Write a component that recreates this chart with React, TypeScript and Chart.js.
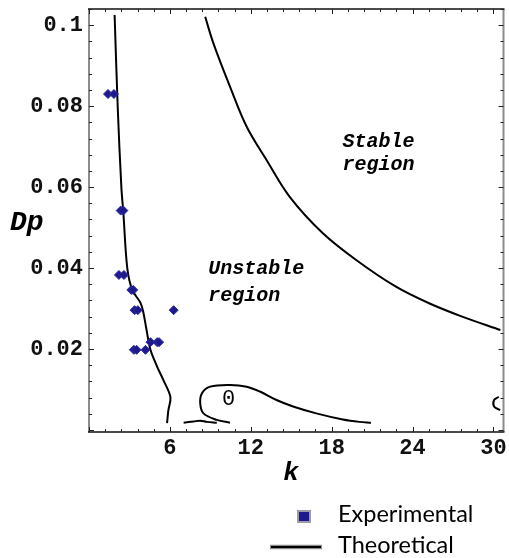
import React, { useEffect, useRef } from "react";
import Chart from "chart.js/auto";

const W = 509;
const H = 558;

// Axis ticks
const xMajorTicks = [6, 12, 18, 24, 30];
const xTickLabels = ["6", "12", "18", "24", "30"];
const yMajorTicks = [0.02, 0.04, 0.06, 0.08, 0.1];
const yTickLabels = ["0.02", "0.04", "0.06", "0.08", "0.1"];

// Experimental points
const expK = [1.41, 1.85, 2.35, 2.55, 2.22, 2.59, 3.14, 3.28, 3.38, 3.62, 6.28, 3.33, 3.53, 4.19, 4.56, 5.06, 5.2];
const expDp = [0.083, 0.083, 0.0542, 0.0542, 0.0383, 0.0383, 0.0346, 0.0346, 0.0296, 0.0296, 0.0296, 0.0198, 0.0198, 0.0198, 0.0217, 0.0217, 0.0217];

// Theoretical contour: left branch
const leftK = [1.9, 2.13, 2.4, 2.55, 2.84, 3.21, 3.82, 4.04, 4.27, 4.56, 5.06, 5.52, 6.04, 5.89, 5.79];
const leftDp = [0.1025, 0.0798, 0.06, 0.0536, 0.04, 0.0346, 0.0314, 0.0289, 0.0247, 0.0198, 0.0156, 0.0123, 0.0081, 0.0049, 0.0017];

// Theoretical contour: stability boundary
const rightK = [8.62, 9.23, 10.46, 11.7, 13.17, 14.89, 17.35, 19.82, 22.77, 25.23, 27.68, 30.52];
const rightDp = [0.1021, 0.0955, 0.0848, 0.0749, 0.0667, 0.0576, 0.0486, 0.042, 0.0354, 0.0313, 0.028, 0.0247];

// Theoretical contour "0" loop
const loopK = [10.46, 9.48, 8.49, 8.25, 8.38, 8.99, 10.46, 11.7, 12.68, 13.91, 15.14, 16.86, 18.83, 20.06, 20.92];
const loopDp = [0.0018, 0.0025, 0.0041, 0.0066, 0.0091, 0.0107, 0.0111, 0.0107, 0.0095, 0.0074, 0.0058, 0.0041, 0.0026, 0.002, 0.0018];

// Small low branch
const lowK = [7.02, 7.76, 8.25, 8.74, 9.48];
const lowDp = [0.0018, 0.0021, 0.0023, 0.002, 0.0018];

// Small right edge bracket
const edgeK = [30.4, 30.05, 30.05, 30.5];
const edgeDp = [0.0082, 0.0074, 0.0058, 0.0049];

// Annotations (data coordinates)
const annotations = [
  { k: 18.8, dp: 0.0711, text: "Stable" },
  { k: 18.8, dp: 0.0655, text: "region" },
  { k: 8.84, dp: 0.0398, text: "Unstable" },
  { k: 8.84, dp: 0.0331, text: "region" },
];
const zeroLabel = { k: 10.35, dp: 0.0077, text: "0" };

const mono = "'Liberation Mono', 'Courier New', monospace";
const sans = "Lato, 'Noto Sans', sans-serif";

const toPts = (xs: number[], ys: number[]) => xs.map((x, i) => ({ x, y: ys[i] }));

const lineDs = (label: string, xs: number[], ys: number[]) => ({
  label,
  data: toPts(xs, ys),
  showLine: true,
  borderColor: "#000",
  borderWidth: 2,
  pointRadius: 0,
  tension: 0.35,
  fill: false,
});

export default function App() {
  const ref = useRef<HTMLCanvasElement | null>(null);

  useEffect(() => {
    if (!ref.current) return;

    const decor = {
      id: "decor",
      afterDraw(chart: any) {
        const ctx = chart.ctx;
        const { left, right, top, bottom } = chart.chartArea;
        const xs = chart.scales.x;
        const ys = chart.scales.y;
        ctx.save();

        // Frame
        ctx.lineCap = "butt";
        ctx.strokeStyle = "#8c8c8c";
        ctx.lineWidth = 2;
        ctx.beginPath();
        ctx.moveTo(left, top);
        ctx.lineTo(left, bottom);
        ctx.moveTo(right, top);
        ctx.lineTo(right, bottom);
        ctx.stroke();
        ctx.strokeStyle = "#111";
        ctx.lineWidth = 1.5;
        ctx.beginPath();
        ctx.moveTo(left - 1, top);
        ctx.lineTo(right + 1, top);
        ctx.moveTo(left - 1, bottom);
        ctx.lineTo(right + 1, bottom);
        ctx.stroke();

        // Inward ticks
        ctx.strokeStyle = "#222";
        ctx.lineWidth = 1;
        ctx.beginPath();
        for (let i = 0; i <= 25; i++) {
          const v = i * 1.2;
          const px = Math.round(xs.getPixelForValue(v)) + 0.5;
          const len = i % 5 === 0 ? 5 : 3;
          ctx.moveTo(px, bottom);
          ctx.lineTo(px, bottom - len);
          ctx.moveTo(px, top);
          ctx.lineTo(px, top + len);
        }
        for (let i = 0; i <= 26; i++) {
          const v = i * 0.004;
          const py = Math.round(ys.getPixelForValue(v)) + 0.5;
          const len = i % 5 === 0 ? 5 : 3;
          ctx.moveTo(left, py);
          ctx.lineTo(left + len, py);
          ctx.moveTo(right, py);
          ctx.lineTo(right - len, py);
        }
        ctx.stroke();

        // Axis titles
        ctx.fillStyle = "#000";
        ctx.font = `italic bold 28px ${mono}`;
        ctx.textAlign = "left";
        ctx.textBaseline = "alphabetic";
        ctx.fillText("Dp", 10, 230);
        ctx.textAlign = "center";
        ctx.font = `italic bold 26px ${mono}`;
        ctx.fillText("k", 291, 480);

        // Annotations
        ctx.textBaseline = "middle";
        ctx.font = `italic bold 20px ${mono}`;
        ctx.textAlign = "left";
        for (const a of annotations) {
          ctx.fillText(a.text, xs.getPixelForValue(a.k), ys.getPixelForValue(a.dp));
        }
        ctx.font = `22px ${mono}`;
        ctx.textAlign = "center";
        ctx.fillText(zeroLabel.text, xs.getPixelForValue(zeroLabel.k), ys.getPixelForValue(zeroLabel.dp));

        // Legend
        const expDs = chart.data.datasets[0];
        ctx.fillStyle = "#9a9aa8";
        ctx.fillRect(297, 510, 14, 13);
        ctx.fillStyle = expDs.backgroundColor;
        ctx.fillRect(299, 512, 10, 9);
        ctx.strokeStyle = "#8a8a8a";
        ctx.lineWidth = 4.5;
        ctx.beginPath();
        ctx.moveTo(270, 547);
        ctx.lineTo(322, 547);
        ctx.stroke();
        ctx.strokeStyle = "#000";
        ctx.lineWidth = 2;
        ctx.beginPath();
        ctx.moveTo(271, 547);
        ctx.lineTo(321, 547);
        ctx.stroke();
        ctx.fillStyle = "#000";
        ctx.font = `23.5px ${sans}`;
        ctx.textAlign = "left";
        ctx.textBaseline = "alphabetic";
        ctx.fillText("Experimental", 338, 522);
        ctx.fillText("Theoretical", 338, 553);

        ctx.restore();
      },
    };

    const chart = new Chart(ref.current, {
      type: "scatter",
      data: {
        datasets: [
          {
            label: "Experimental",
            data: toPts(expK, expDp),
            pointStyle: "rectRot",
            pointRadius: 4.5,
            backgroundColor: "#1e1a8c",
            borderColor: "#2a2aa0",
            borderWidth: 1,
          } as any,
          lineDs("Theoretical", leftK, leftDp),
          lineDs("Theoretical b", rightK, rightDp),
          lineDs("Theoretical c", loopK, loopDp),
          lineDs("Theoretical d", lowK, lowDp),
          lineDs("Theoretical e", edgeK, edgeDp),
        ],
      },
      options: {
        responsive: false,
        animation: false,
        layout: { padding: { top: 9, right: 4, left: 0, bottom: 0 } },
        plugins: { legend: { display: false }, tooltip: { enabled: false } },
        scales: {
          x: {
            type: "linear",
            min: 0,
            max: 30.75,
            grid: { display: false, drawTicks: false },
            border: { display: false },
            afterBuildTicks: (s: any) => {
              s.ticks = xMajorTicks.map((v) => ({ value: v }));
            },
            afterFit: (s: any) => {
              s.height = 126;
              s.paddingLeft = 0;
              s.paddingRight = 0;
            },
            ticks: {
              autoSkip: false,
              maxRotation: 0,
              padding: 3,
              color: "#111",
              font: { family: mono, size: 22, weight: "bold" },
              callback: (v: any) => xTickLabels[xMajorTicks.indexOf(Number(v))] ?? "",
            },
          },
          y: {
            type: "linear",
            min: -0.0005,
            max: 0.104,
            grid: { display: false, drawTicks: false },
            border: { display: false },
            afterBuildTicks: (s: any) => {
              s.ticks = yMajorTicks.map((v) => ({ value: v }));
            },
            afterFit: (s: any) => {
              s.width = 89;
              s.paddingTop = 0;
              s.paddingBottom = 0;
            },
            ticks: {
              autoSkip: false,
              padding: 6,
              color: "#111",
              font: { family: mono, size: 22, weight: "bold" },
              callback: (v: any) => {
                const i = yMajorTicks.findIndex((t) => Math.abs(t - Number(v)) < 1e-9);
                return i >= 0 ? yTickLabels[i] : "";
              },
            },
          },
        },
      },
      plugins: [decor],
    } as any);

    return () => chart.destroy();
  }, []);

  return (
    <div style={{ position: "fixed", left: 0, top: 0, width: W, height: H, background: "#fff" }}>
      <canvas ref={ref} width={W} height={H} style={{ display: "block", width: W, height: H }} />
    </div>
  );
}
